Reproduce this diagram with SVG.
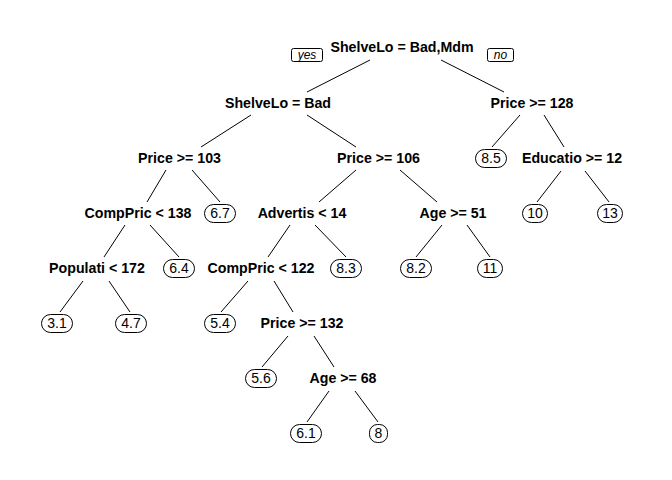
<svg xmlns="http://www.w3.org/2000/svg" width="672" height="480" viewBox="0 0 672 480">
<style>
.split{font-family:"Liberation Sans",Arial,sans-serif;font-size:14.2px;font-weight:bold;fill:#000;text-anchor:middle}
.leaf text{font-family:"Liberation Sans",Arial,sans-serif;font-size:14px;fill:#000;text-anchor:middle}
.leaf rect{fill:#fff;stroke:#000;stroke-width:1}
.yn rect{fill:#fff;stroke:#000;stroke-width:1}
.yn text{font-family:"Liberation Sans",Arial,sans-serif;font-size:12px;font-style:italic;fill:#000;text-anchor:middle}
#connectors line{stroke:#000;stroke-width:1}
</style>
<rect width="672" height="480" fill="#fff"/>
<g id="connectors">
<line x1="370" y1="60" x2="307" y2="92"/>
<line x1="441" y1="60" x2="504" y2="92"/>
<line x1="251" y1="115" x2="201" y2="147"/>
<line x1="307" y1="115" x2="356" y2="147"/>
<line x1="520" y1="115" x2="492" y2="147"/>
<line x1="544" y1="115" x2="564" y2="147"/>
<line x1="166" y1="170" x2="147" y2="202"/>
<line x1="192" y1="170" x2="220" y2="202"/>
<line x1="356" y1="170" x2="319" y2="202"/>
<line x1="400" y1="170" x2="437" y2="202"/>
<line x1="561" y1="171" x2="537" y2="202"/>
<line x1="585" y1="171" x2="609" y2="202"/>
<line x1="125" y1="225" x2="104" y2="257"/>
<line x1="150" y1="225" x2="179" y2="257"/>
<line x1="290" y1="225" x2="268" y2="257"/>
<line x1="315" y1="225" x2="346" y2="257"/>
<line x1="442" y1="225" x2="416" y2="257"/>
<line x1="467" y1="225" x2="490" y2="257"/>
<line x1="83" y1="281" x2="60" y2="312"/>
<line x1="109" y1="281" x2="130" y2="312"/>
<line x1="248" y1="281" x2="221" y2="312"/>
<line x1="274" y1="281" x2="293" y2="312"/>
<line x1="288" y1="336" x2="262" y2="367"/>
<line x1="314" y1="336" x2="334" y2="367"/>
<line x1="329" y1="391" x2="307" y2="422"/>
<line x1="355" y1="391" x2="378" y2="422"/>
</g>
<g id="yes" class="yn"><rect x="291.5" y="48.5" width="31" height="13" rx="2"/><text x="307" y="59">yes</text></g>
<g id="no" class="yn"><rect x="487.5" y="48.5" width="26" height="13" rx="2"/><text x="500.5" y="59">no</text></g>
<g id="n1"><text class="split" x="402" y="52">ShelveLo = Bad,Mdm</text></g>
<g id="n2"><text class="split" x="278" y="108">ShelveLo = Bad</text></g>
<g id="n3"><text class="split" x="532" y="108">Price &gt;= 128</text></g>
<g id="n4"><text class="split" x="179.5" y="163">Price &gt;= 103</text></g>
<g id="n5"><text class="split" x="378.5" y="163">Price &gt;= 106</text></g>
<g id="n6" class="leaf"><rect x="475.5" y="149.5" width="31" height="18" rx="9"/><text x="491" y="163">8.5</text></g>
<g id="n7"><text class="split" x="572" y="163">Educatio &gt;= 12</text></g>
<g id="n8"><text class="split" x="138" y="218">CompPric &lt; 138</text></g>
<g id="n9" class="leaf"><rect x="204.5" y="204.5" width="31" height="18" rx="9"/><text x="220" y="218">6.7</text></g>
<g id="n10"><text class="split" x="302" y="218">Advertis &lt; 14</text></g>
<g id="n11"><text class="split" x="453" y="218">Age &gt;= 51</text></g>
<g id="n12" class="leaf"><rect x="522.5" y="204.5" width="25" height="18" rx="9"/><text x="535" y="218">10</text></g>
<g id="n13" class="leaf"><rect x="597.5" y="204.5" width="25" height="18" rx="9"/><text x="610" y="218">13</text></g>
<g id="n14"><text class="split" x="97" y="273">Populati &lt; 172</text></g>
<g id="n15" class="leaf"><rect x="163.5" y="259.5" width="31" height="18" rx="9"/><text x="179" y="273">6.4</text></g>
<g id="n16"><text class="split" x="261" y="273">CompPric &lt; 122</text></g>
<g id="n17" class="leaf"><rect x="330.5" y="259.5" width="31" height="18" rx="9"/><text x="346" y="273">8.3</text></g>
<g id="n18" class="leaf"><rect x="400.5" y="259.5" width="31" height="18" rx="9"/><text x="416" y="273">8.2</text></g>
<g id="n19" class="leaf"><rect x="477.5" y="259.5" width="25" height="18" rx="9"/><text x="490" y="273">11</text></g>
<g id="n20" class="leaf"><rect x="41.5" y="314.5" width="31" height="18" rx="9"/><text x="57" y="328">3.1</text></g>
<g id="n21" class="leaf"><rect x="115.5" y="314.5" width="31" height="18" rx="9"/><text x="131" y="328">4.7</text></g>
<g id="n22" class="leaf"><rect x="204.5" y="314.5" width="31" height="18" rx="9"/><text x="220" y="328">5.4</text></g>
<g id="n23"><text class="split" x="302" y="328">Price &gt;= 132</text></g>
<g id="n24" class="leaf"><rect x="245.5" y="369.5" width="31" height="18" rx="9"/><text x="261" y="383">5.6</text></g>
<g id="n25"><text class="split" x="343" y="383">Age &gt;= 68</text></g>
<g id="n26" class="leaf"><rect x="290.5" y="424.5" width="31" height="18" rx="9"/><text x="306" y="438">6.1</text></g>
<g id="n27" class="leaf"><rect x="369.5" y="424.5" width="18" height="18" rx="8"/><text x="378.5" y="438">8</text></g>
</svg>
